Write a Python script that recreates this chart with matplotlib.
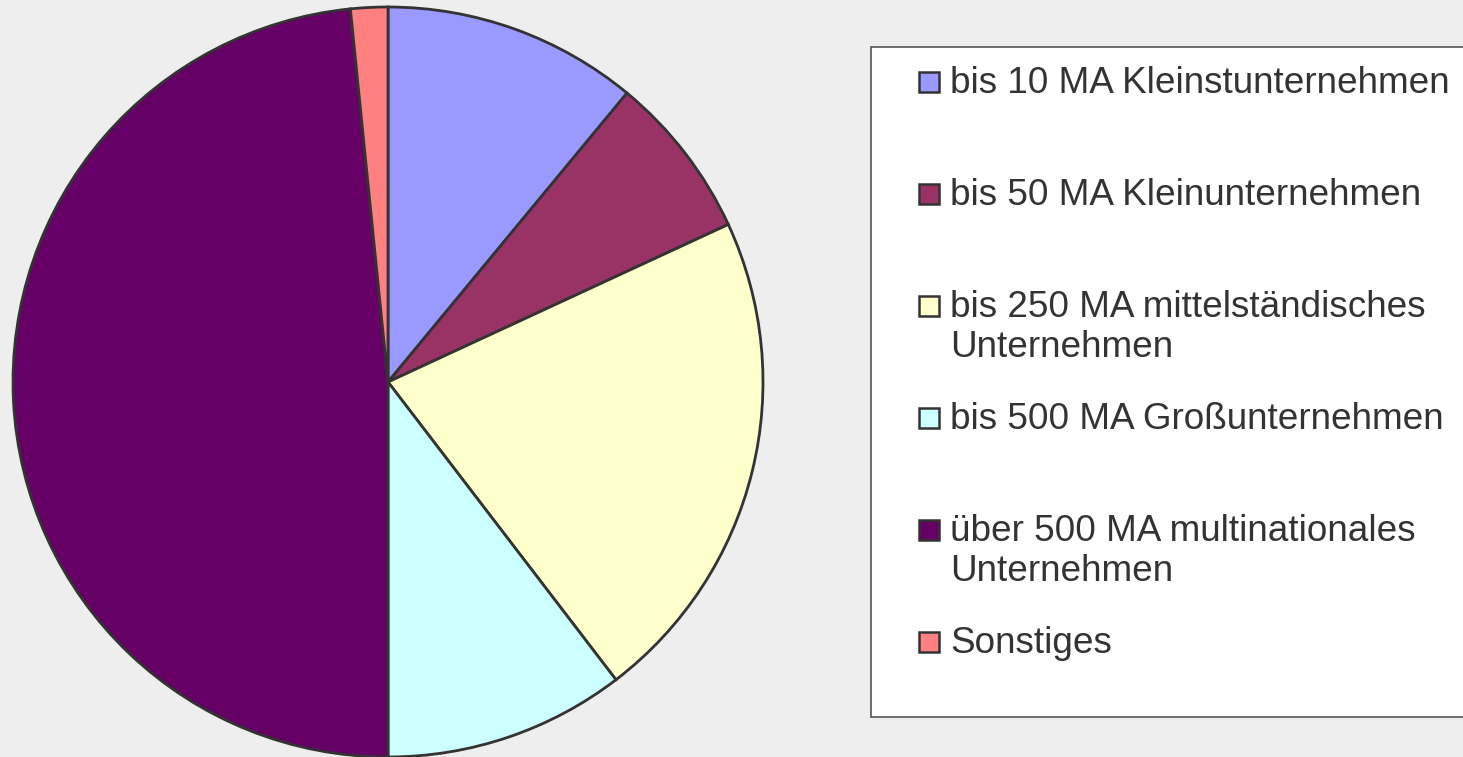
import matplotlib.pyplot as plt
from matplotlib.patches import Rectangle

# Anteile je Unternehmensgröße (in %)
labels = ["bis 10 MA Kleinstunternehmen",
          "bis 50 MA Kleinunternehmen",
          "bis 250 MA mittelständisches\nUnternehmen",
          "bis 500 MA Großunternehmen",
          "über 500 MA multinationales\nUnternehmen",
          "Sonstiges"]
values = [11.0, 7.1, 21.5, 10.4, 48.4, 1.6]
colors = ["#9999FF", "#993366", "#FFFFCC", "#CCFFFF", "#660066", "#FF8080"]

W, H = 1463, 757
fig = plt.figure(figsize=(W / 100, H / 100), dpi=100, facecolor="#EEEEEE")
plt.rcParams['font.family'] = ['Liberation Sans', 'DejaVu Sans']

# Kreisdiagramm: Mittelpunkt (388, 382), Radius 375 px
cx, cy, r = 388, 382, 375
ax = fig.add_axes([(cx - r) / W, (H - cy - r) / H, 2 * r / W, 2 * r / H])
ax.pie(values, colors=colors, startangle=90, counterclock=False, radius=1,
       wedgeprops=dict(edgecolor="#333333", linewidth=2.0))
ax.set_xlim(-1, 1)
ax.set_ylim(-1, 1)
ax.set_aspect("auto")
ax.axis("off")

# Legende von Hand (Excel-Stil)
lg = fig.add_axes([0, 0, 1, 1], facecolor="none")
lg.set_xlim(0, W)
lg.set_ylim(H, 0)
lg.axis("off")
lg.add_patch(Rectangle((871, 47), 700, 670, facecolor="white",
                       edgecolor="#555555", linewidth=1.2))

fs = 26.6
for i, (lab, col) in enumerate(zip(labels, colors)):
    base = 93 + 112 * i
    lg.add_patch(Rectangle((919, base - 21), 20, 20, facecolor=col,
                           edgecolor="#333333", linewidth=1.8))
    # va="top": Oberkante der ersten Zeile ~ 0.73 em über der Grundlinie
    lg.text(950, base - 0.73 * fs * 100 / 72, lab, fontsize=fs, color="#333333",
            va="top", ha="left", linespacing=1.2)

fig.savefig("out.png", dpi=100, facecolor=fig.get_facecolor())
